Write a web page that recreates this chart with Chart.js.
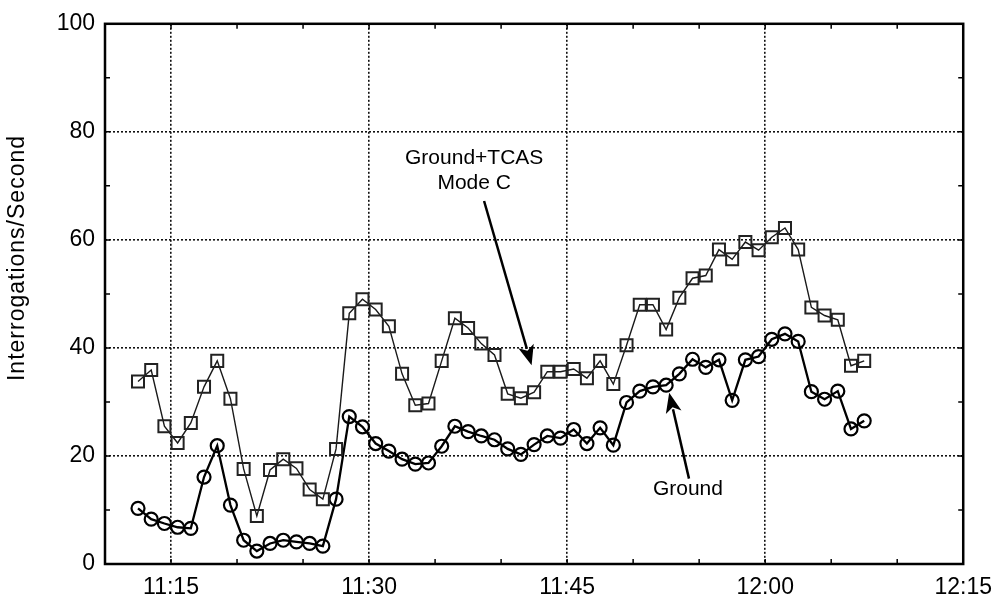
<!DOCTYPE html>
<html>
<head>
<meta charset="utf-8">
<script src="https://cdn.jsdelivr.net/npm/chart.js@4.4.1/dist/chart.umd.min.js"></script>
<style>
  html, body { margin: 0; padding: 0; background: #fff; }
  #wrap { width: 1002px; height: 605px; }
</style>
</head>
<body>
<div id="wrap"><canvas id="chart"></canvas></div>
<script>
// Sample times, minutes after 11:00 (one sample per minute, 11:12:30 .. 12:07:30)
const minutes = [
  12.5, 13.5, 14.5, 15.5, 16.5, 17.5, 18.5, 19.5, 20.5, 21.5,
  22.5, 23.5, 24.5, 25.5, 26.5, 27.5, 28.5, 29.5, 30.5, 31.5,
  32.5, 33.5, 34.5, 35.5, 36.5, 37.5, 38.5, 39.5, 40.5, 41.5,
  42.5, 43.5, 44.5, 45.5, 46.5, 47.5, 48.5, 49.5, 50.5, 51.5,
  52.5, 53.5, 54.5, 55.5, 56.5, 57.5, 58.5, 59.5, 60.5, 61.5,
  62.5, 63.5, 64.5, 65.5, 66.5, 67.5
];

// Ground + TCAS Mode C (squares)
const tcasRate = [
  33.8, 35.9, 25.5, 22.4, 26.1, 32.8, 37.6, 30.6, 17.6, 8.9,
  17.4, 19.4, 17.7, 13.8, 12.0, 21.3, 46.4, 49.0, 47.1, 44.0,
  35.2, 29.4, 29.7, 37.6, 45.5, 43.7, 40.8, 38.7, 31.5, 30.7,
  31.8, 35.6, 35.6, 36.1, 34.4, 37.6, 33.3, 40.5, 48.0, 48.0,
  43.4, 49.3, 52.9, 53.4, 58.2, 56.4, 59.6, 58.1, 60.5, 62.2,
  58.2, 47.5, 46.0, 45.2, 36.7, 37.6
];

// Ground only (circles)
const groundRate = [
  10.3, 8.3, 7.5, 6.8, 6.6, 16.1, 21.9, 10.9, 4.4, 2.4,
  3.8, 4.4, 4.1, 3.8, 3.3, 12.0, 27.3, 25.4, 22.3, 20.9,
  19.4, 18.5, 18.7, 21.8, 25.5, 24.5, 23.7, 23.0, 21.3, 20.3,
  22.1, 23.7, 23.3, 24.9, 22.3, 25.2, 22.0, 29.9, 32.0, 32.8,
  33.1, 35.2, 37.9, 36.4, 37.8, 30.3, 37.8, 38.4, 41.6, 42.6,
  41.2, 31.9, 30.5, 32.0, 25.0, 26.5
];

const xTicks = [15, 30, 45, 60, 75];   // 11:15 .. 12:15
const yTicks = [0, 20, 40, 60, 80, 100];

// annotations anchored in data units (minute, value)
const notes = [
  { lines: ['Ground+TCAS', 'Mode C'], x: 37.96, y: 75.2, step: 4.7,
    from: [38.71, 67.2], to: [42.31, 36.8] },
  { lines: ['Ground'], x: 54.15, y: 13.8, step: 0,
    from: [54.23, 15.8], to: [52.73, 31.7] }
];

const FONT = '"Liberation Sans", Arial, Helvetica, sans-serif';

function fmtTime(v) {
  const h = 11 + Math.floor(v / 60);
  const m = v % 60;
  return h + ':' + String(m).padStart(2, '0');
}

function xy(chart, x, y) {
  return [chart.scales.x.getPixelForValue(x), chart.scales.y.getPixelForValue(y)];
}

const framePlugin = {
  id: 'frame',
  afterDatasetsDraw(chart) {
    const { ctx, chartArea: a } = chart;
    const xs = chart.scales.x, ys = chart.scales.y;
    ctx.save();
    ctx.strokeStyle = '#000';
    // minor ticks on all four sides
    ctx.lineWidth = 1.5;
    ctx.beginPath();
    for (let m = 15; m < 75; m += 5) {
      const px = xs.getPixelForValue(m);
      ctx.moveTo(px, a.top); ctx.lineTo(px, a.top + 5);
      ctx.moveTo(px, a.bottom); ctx.lineTo(px, a.bottom - 5);
    }
    for (let v = 10; v < 100; v += 10) {
      const py = ys.getPixelForValue(v);
      ctx.moveTo(a.left, py); ctx.lineTo(a.left + 5, py);
      ctx.moveTo(a.right, py); ctx.lineTo(a.right - 5, py);
    }
    ctx.stroke();
    // frame
    ctx.lineWidth = 2.5;
    ctx.strokeRect(a.left, a.top, a.right - a.left, a.bottom - a.top);

    // annotations
    ctx.fillStyle = '#000';
    ctx.font = '21px ' + FONT;
    ctx.textAlign = 'center';
    ctx.textBaseline = 'middle';
    notes.forEach(n => {
      n.lines.forEach((t, i) => {
        const [tx, ty] = xy(chart, n.x, n.y - i * n.step);
        ctx.fillText(t, tx, ty);
      });
      const [x0, y0] = xy(chart, n.from[0], n.from[1]);
      const [x1, y1] = xy(chart, n.to[0], n.to[1]);
      const ang = Math.atan2(y1 - y0, x1 - x0);
      const len = 17, half = 8;
      const bx = x1 - len * Math.cos(ang), by = y1 - len * Math.sin(ang);
      ctx.lineWidth = 2.5;
      ctx.beginPath();
      ctx.moveTo(x0, y0);
      ctx.lineTo(bx, by);
      ctx.stroke();
      const nx = -Math.sin(ang), ny = Math.cos(ang);
      ctx.beginPath();
      ctx.moveTo(x1, y1);
      ctx.lineTo(bx - 3 * Math.cos(ang) + half * nx, by - 3 * Math.sin(ang) + half * ny);
      ctx.lineTo(bx + 2 * Math.cos(ang), by + 2 * Math.sin(ang));
      ctx.lineTo(bx - 3 * Math.cos(ang) - half * nx, by - 3 * Math.sin(ang) - half * ny);
      ctx.closePath();
      ctx.fill();
    });

    // y axis title
    ctx.save();
    ctx.translate(18, 258);
    ctx.rotate(-Math.PI / 2);
    ctx.font = '23px ' + FONT;
    if ('letterSpacing' in ctx) ctx.letterSpacing = '1px';
    ctx.fillText('Interrogations/Second', 0, 0);
    ctx.restore();
    ctx.restore();
  }
};

new Chart(document.getElementById('chart'), {
  type: 'line',
  data: {
    datasets: [
      {
        label: 'Ground+TCAS Mode C',
        data: minutes.map((m, i) => ({ x: m, y: tcasRate[i] })),
        borderColor: '#1a1a1a',
        borderWidth: 1.4,
        pointStyle: 'rect',
        pointRadius: 8.5,
        pointBorderWidth: 2,
        pointBorderColor: '#222',
        pointBackgroundColor: 'rgba(0,0,0,0)',
        tension: 0,
      },
      {
        label: 'Ground',
        data: minutes.map((m, i) => ({ x: m, y: groundRate[i] })),
        borderColor: '#000',
        borderWidth: 2.3,
        pointStyle: 'circle',
        pointRadius: 6.5,
        pointBorderWidth: 2.2,
        pointBorderColor: '#000',
        pointBackgroundColor: 'rgba(0,0,0,0)',
        tension: 0,
      },
    ],
  },
  options: {
    responsive: true,
    maintainAspectRatio: false,
    animation: false,
    layout: { padding: { left: 0, right: 30, top: 15, bottom: 0 } },
    plugins: { legend: { display: false }, tooltip: { enabled: false } },
    scales: {
      x: {
        type: 'linear',
        min: 10,
        max: 75,
        afterBuildTicks: s => { s.ticks = xTicks.map(v => ({ value: v })); },
        afterFit: s => { s.height = 41; },
        ticks: {
          color: '#000',
          font: { family: FONT, size: 23 },
          padding: 10,
          autoSkip: false,
          maxRotation: 0,
          callback: v => fmtTime(v),
        },
        grid: { color: '#111', lineWidth: 1.6, drawTicks: false },
        border: { display: false, dash: [2, 2] },
      },
      y: {
        min: 0,
        max: 100,
        afterBuildTicks: s => { s.ticks = yTicks.map(v => ({ value: v })); },
        afterFit: s => { s.width = 105; },
        ticks: {
          color: '#000',
          font: { family: FONT, size: 23 },
          padding: 10,
        },
        grid: { color: '#111', lineWidth: 1.6, drawTicks: false },
        border: { display: false, dash: [2, 2] },
      },
    },
  },
  plugins: [framePlugin],
});
</script>
</body>
</html>
